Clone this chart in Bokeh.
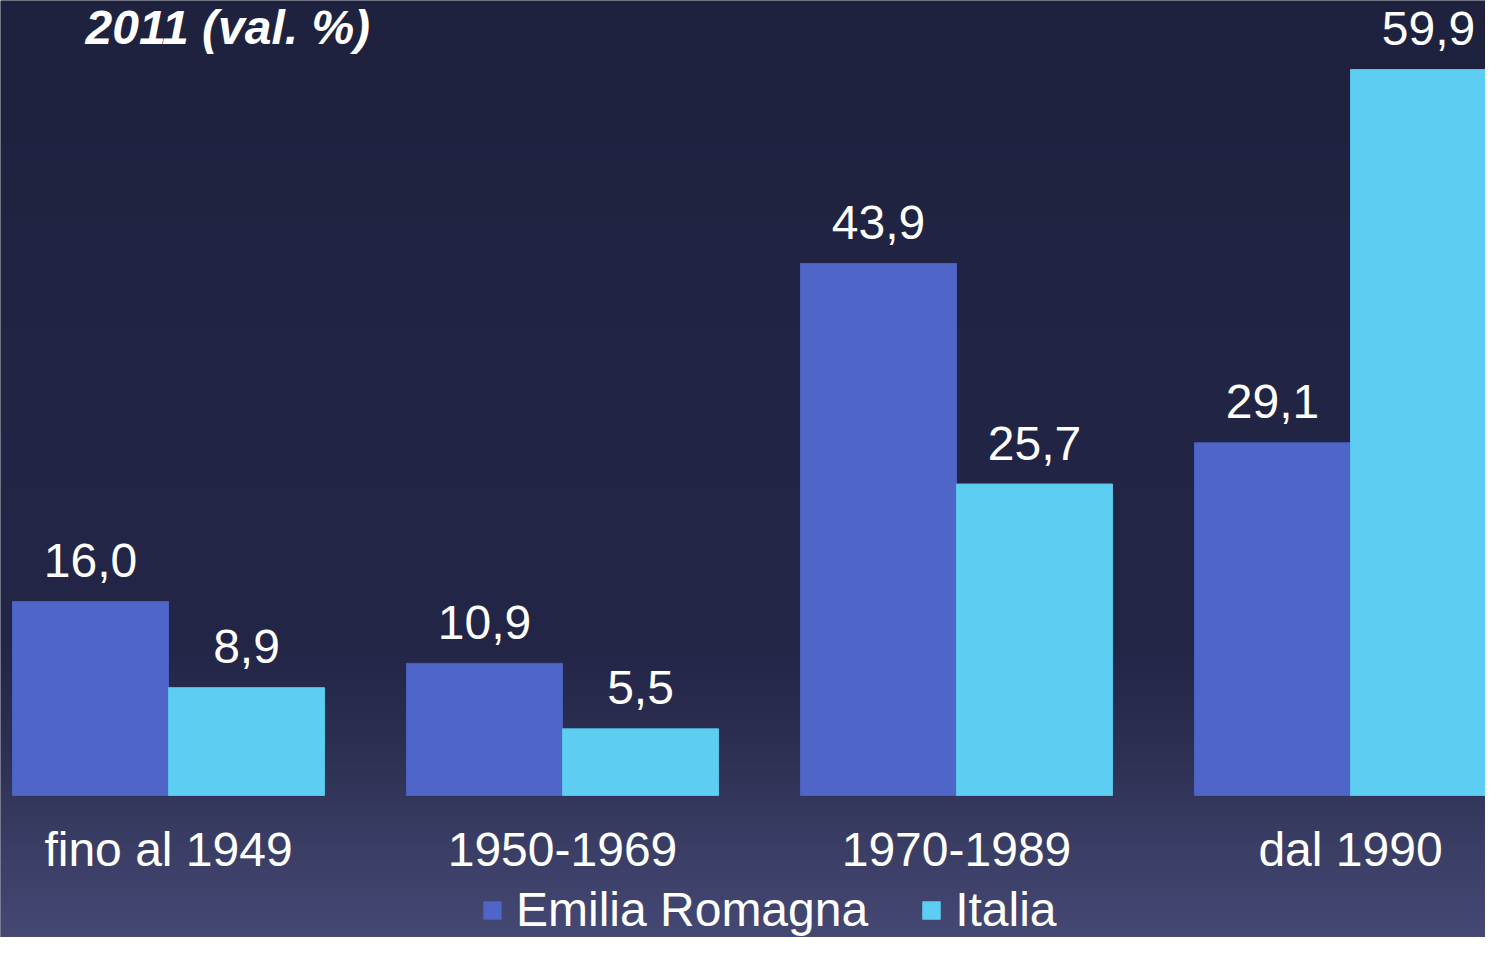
import numpy as np
from bokeh.plotting import figure
from bokeh.models import Range1d, Legend, LegendItem, Label, ColumnDataSource
from bokeh.core.properties import value
from bokeh.embed import file_html
from bokeh.resources import INLINE

# ---- data ----
categories = ["fino al 1949", "1950-1969", "1970-1989", "dal 1990"]
emilia_romagna = [16.0, 10.9, 43.9, 29.1]
italia = [8.9, 5.5, 25.7, 59.9]
series_names = ["Emilia Romagna", "Italia"]
title_text = "2011 (val. %)"

# ---- layout constants ----
W, H = 1485, 937
PX_PER_UNIT = 726 / 59.9        # vertical scale (px per percentage point)
PX_PER_CAT = 394                # horizontal scale (px per category)
BASE_Y = 795                    # canvas y of the zero line
FIX = 19                        # text baseline correction (px)
x0 = -168 / PX_PER_CAT
x1 = x0 + W / PX_PER_CAT
ytop = BASE_Y / PX_PER_UNIT
ybot = (BASE_Y - H) / PX_PER_UNIT

FONT = "Liberation Sans"
C_EMILIA = "#4F66C8"
C_ITALIA = "#5ECDF2"
BG_TOP = "#1F223F"

p = figure(width=W, height=H, x_range=Range1d(x0, x1), y_range=Range1d(ybot, ytop),
           x_axis_type=None, y_axis_type=None, toolbar_location=None,
           output_backend="svg", min_border=0, outline_line_color=None,
           background_fill_color=BG_TOP, border_fill_color=BG_TOP)
p.grid.visible = False

# ---- background vertical gradient ----
stops_y = [0, 650, 750, 850, 953]
stops_r = [31, 35, 45, 59, 70]
stops_g = [34, 38, 48, 63, 74]
stops_b = [62, 71, 82, 102, 118]
rows = np.arange(H)
canvas_y = H - rows - 0.5
img = np.empty((H, 1), dtype=np.uint32)
view = img.view(dtype=np.uint8).reshape((H, 1, 4))
view[:, 0, 0] = np.interp(canvas_y, stops_y, stops_r).astype(np.uint8)
view[:, 0, 1] = np.interp(canvas_y, stops_y, stops_g).astype(np.uint8)
view[:, 0, 2] = np.interp(canvas_y, stops_y, stops_b).astype(np.uint8)
view[:, 0, 3] = 255
p.image_rgba(image=[img], x=x0, y=ybot, dw=x1 - x0, dh=ytop - ybot)

# ---- bars ----
BW = 156 / PX_PER_CAT
idx = np.arange(len(categories))
src_e = ColumnDataSource(dict(x=idx - BW / 2, top=emilia_romagna,
                              lab=[f"{v:.1f}".replace(".", ",") for v in emilia_romagna]))
src_i = ColumnDataSource(dict(x=idx + BW / 2, top=italia,
                              lab=[f"{v:.1f}".replace(".", ",") for v in italia]))
r_e = p.vbar(x="x", top="top", bottom=0, width=BW, source=src_e,
             fill_color=C_EMILIA, line_color="#4A60BE", line_width=1)
r_i = p.vbar(x="x", top="top", bottom=0, width=BW, source=src_i,
             fill_color=C_ITALIA, line_color="#58C2E8", line_width=1)

# ---- value labels ----
gap = (22 + FIX) / PX_PER_UNIT
for src in (src_e, src_i):
    d = src.data
    p.text(x=list(d["x"]), y=[t + gap for t in d["top"]], text=list(d["lab"]),
           text_font=value(FONT), text_font_size=value("48px"), text_color="white",
           text_align="center", text_baseline="alphabetic")

# ---- category labels ----
p.text(x=list(idx), y=[(BASE_Y - 868 + FIX) / PX_PER_UNIT] * len(categories), text=categories,
       text_font=value(FONT), text_font_size=value("48px"), text_color="white",
       text_align="center", text_baseline="alphabetic")

# ---- title ----
p.add_layout(Label(x=(85 - 168) / PX_PER_CAT, y=(BASE_Y - 46 + FIX) / PX_PER_UNIT,
                   text=title_text, text_font=FONT, text_font_size="48px",
                   text_font_style="bold italic", text_color="white",
                   text_align="left", text_baseline="alphabetic"))

# ---- legend ----
legend = Legend(items=[LegendItem(label=series_names[0], renderers=[r_e]),
                       LegendItem(label=series_names[1], renderers=[r_i])],
                orientation="horizontal", location=(481, 0),
                padding=0, margin=0, spacing=52, label_standoff=13,
                glyph_width=22, glyph_height=22,
                label_text_font=FONT, label_text_font_size="48px",
                label_text_color="white", border_line_color=None,
                background_fill_alpha=0)
p.add_layout(legend)

open("out.html", "w").write(file_html(p, INLINE))
